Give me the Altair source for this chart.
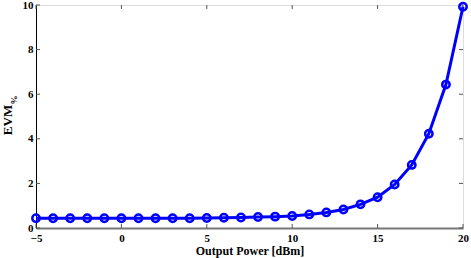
import altair as alt
import pandas as pd

power_dbm = list(range(-5, 21))
evm_pct = [0.44, 0.44, 0.44, 0.44, 0.44, 0.44, 0.44, 0.44, 0.44, 0.44,
           0.45, 0.46, 0.47, 0.49, 0.51, 0.54, 0.61, 0.70, 0.83,
           1.06, 1.38, 1.95, 2.83, 4.23, 6.43, 9.92]

x_ticks = [-5, 0, 5, 10, 15, 20]
y_ticks = [0, 2, 4, 6, 8, 10]

W, H = 427, 223
FONT = "Liberation Serif"
BLUE = "#0000FF"

df = pd.DataFrame({"p": power_dbm, "evm": evm_pct})
xt = pd.DataFrame({"t": x_ticks})
yt = pd.DataFrame({"t": y_ticks})

xscale = alt.Scale(domain=[-5, 20], nice=False, zero=False)
yscale = alt.Scale(domain=[0, 10], nice=False)

xaxis = alt.Axis(values=x_ticks, ticks=False, grid=False, labelFont=FONT,
                 labelFontWeight="bold", labelFontSize=11, labelColor="black",
                 labelPadding=4, domainColor="#777777", domainWidth=2,
                 title="Output Power [dBm]", titleFont=FONT, titleFontWeight="bold",
                 titleFontSize=12, titleColor="black", titlePadding=2,
                 labelFlush=False)
yaxis = alt.Axis(values=y_ticks, ticks=False, grid=False, labelFont=FONT,
                 labelFontWeight="bold", labelFontSize=11, labelColor="black",
                 labelPadding=3, domainColor="black", domainWidth=1, title=None,
                 labelFlush=False)

base = alt.Chart(df)
line = base.mark_line(color=BLUE, strokeWidth=3, clip=False).encode(
    x=alt.X("p:Q", scale=xscale, axis=xaxis),
    y=alt.Y("evm:Q", scale=yscale, axis=yaxis),
)
pts = base.mark_point(shape="circle", filled=False, color=BLUE, strokeWidth=2.5,
                      size=55, opacity=1, clip=False).encode(
    x=alt.X("p:Q", scale=xscale),
    y=alt.Y("evm:Q", scale=yscale),
)

tick_style = dict(color="#555555", strokeWidth=1)
xb = alt.Chart(xt).mark_rule(**tick_style).encode(
    x=alt.X("t:Q", scale=xscale), y=alt.value(H), y2=alt.value(H - 4))
xtop = alt.Chart(xt).mark_rule(**tick_style).encode(
    x=alt.X("t:Q", scale=xscale), y=alt.value(0), y2=alt.value(4))
yl = alt.Chart(yt).mark_rule(**tick_style).encode(
    y=alt.Y("t:Q", scale=yscale), x=alt.value(0), x2=alt.value(4))
yr = alt.Chart(yt).mark_rule(**tick_style).encode(
    y=alt.Y("t:Q", scale=yscale), x=alt.value(W), x2=alt.value(W - 4))

title_df = pd.DataFrame({"a": [1]})
evm_title = alt.Chart(title_df).mark_text(
    text="EVM", angle=270, font=FONT, fontWeight="bold", fontSize=13,
    color="black", align="center", baseline="middle").encode(
    x=alt.value(-28), y=alt.value(115))
pct_title = alt.Chart(title_df).mark_text(
    text="%", angle=270, font=FONT, fontWeight="bold", fontSize=9,
    color="black", align="center", baseline="middle").encode(
    x=alt.value(-22), y=alt.value(95))

chart = alt.layer(xb, xtop, yl, yr, line, pts, evm_title, pct_title).properties(
    width=W, height=H,
    autosize=alt.AutoSizeParams(type="none"),
    padding={"left": 36, "top": 5, "right": 8, "bottom": 30},
).configure_view(stroke="black", strokeWidth=1).configure(background="white")

chart.save("out.html", embed_options={"renderer": "svg", "actions": False})
